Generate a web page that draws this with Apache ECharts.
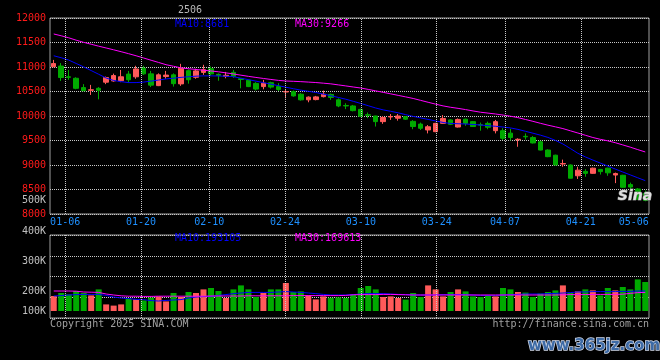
<!DOCTYPE html>
<html><head><meta charset="utf-8">
<script src="https://cdn.jsdelivr.net/npm/echarts@6/dist/echarts.min.js"></script>
<style>html,body{margin:0;padding:0;background:#000}#c{width:660px;height:360px}</style>
</head><body><div id="c"></div>
<script>
// ---------- data ----------
const dates = [
 '01-02','01-03','01-06','01-07','01-08','01-09','01-10','01-13','01-14','01-15','01-16','01-17','01-20','01-21','01-22','01-23','01-24','01-27',
 '02-05','02-06','02-07','02-10','02-11','02-12','02-13','02-14','02-17','02-18','02-19','02-20','02-21','02-24','02-25','02-26','02-27','02-28',
 '03-03','03-04','03-05','03-06','03-07','03-10','03-11','03-12','03-13','03-14','03-17','03-18','03-19','03-20','03-21','03-24','03-25','03-26','03-27','03-28','03-31',
 '04-01','04-02','04-03','04-07','04-08','04-09','04-10','04-11','04-14','04-15','04-16','04-17','04-18','04-21','04-22','04-23','04-24','04-25','04-28','04-29','04-30',
 '05-06','05-07'];
const opens = [11005,11020,10800,10770,10580,10525,10565,10690,10715,10720,
 10855,10800,10975,10860,10620,10805,10840,10655,10925,10790,
 10890,10965,10850,10810,10890,10760,10730,10665,10600,10680,
 10600,10490,10500,10445,10330,10335,10395,10440,10330,10215,
 10205,10135,10025,10000,9885,9980,9955,9985,9890,9835,
 9715,9680,9850,9920,9775,9935,9885,9820,9850,9700,
 9700,9650,9515,9585,9560,9475,9305,9200,9020,9000,
 8780,8870,8830,8910,8935,8795,8790,8600,8510,8420];
const closes = [11070,10785,10790,10565,10515,10535,10525,10785,10825,10800,
 10740,10960,10860,10630,10840,10835,10660,10975,10740,10920,
 10945,10860,10830,10830,10810,10745,10600,10550,10670,10590,
 10540,10500,10410,10330,10385,10390,10445,10380,10205,10205,
 10110,9995,10015,9885,9970,9990,10000,9935,9785,9750,
 9780,9850,9950,9830,9930,9850,9785,9815,9770,9885,
 9545,9560,9525,9575,9450,9305,9170,9000,9030,8730,
 8895,8830,8935,8865,8840,8825,8545,8550,8300,8275];
const lows = [11000,10716,10740,10545,10510,10430,10340,10650,10700,10690,
 10680,10760,10840,10590,10610,10760,10600,10615,10660,10760,
 10840,10820,10720,10770,10780,10565,10590,10520,10545,10560,
 10510,10360,10395,10315,10280,10320,10380,10330,10180,10140,
 10095,9985,9955,9785,9840,9920,9905,9920,9730,9715,
 9645,9670,9840,9815,9765,9800,9775,9700,9730,9645,
 9510,9500,9372,9520,9440,9300,9160,8995,8965,8725,
 8715,8760,8820,8805,8780,8630,8540,8480,8290,8260];
const highs = [11145,11080,10940,10790,10650,10635,10590,10805,10865,10940,
 10920,11025,11025,10920,10870,10920,10870,11065,10950,10965,
 11045,11010,10870,10900,10940,10765,10745,10690,10737,10700,
 10670,10530,10520,10465,10400,10410,10520,10460,10360,10260,
 10225,10150,10070,10005,10000,10040,10040,10000,9915,9865,
 9815,9860,10020,9935,9950,9945,9895,9865,9885,9920,
 9750,9740,9545,9645,9590,9495,9320,9210,9110,9010,
 8965,8915,8945,8920,8945,8845,8800,8640,8530,8480];
const ma10 = [11229,11189,11141,11072,11002,10927,10852,10775,10725,10700,
 10682,10682,10692,10712,10734,10756,10772,10788,10801,10813,
 10819,10819,10817,10811,10802,10772,10742,10712,10681,10650,
 10619,10588,10557,10528,10504,10480,10447,10414,10379,10343,
 10300,10256,10210,10163,10125,10096,10065,10028,9992,9961,
 9930,9899,9868,9848,9842,9837,9827,9816,9803,9790,
 9775,9757,9727,9688,9649,9609,9563,9502,9429,9336,
 9239,9165,9101,9039,8978,8917,8857,8798,8739,8681];
const ma30 = [11674,11637,11596,11547,11503,11464,11425,11388,11351,11312,
 11272,11229,11184,11138,11093,11047,11015,10983,10964,10950,
 10934,10919,10902,10880,10858,10833,10809,10787,10766,10746,
 10727,10714,10708,10701,10692,10683,10670,10656,10635,10614,
 10592,10571,10543,10513,10483,10452,10421,10390,10358,10319,
 10280,10242,10206,10178,10156,10131,10103,10077,10059,10041,
 10019,9996,9966,9929,9891,9851,9813,9779,9743,9698,
 9653,9607,9561,9524,9493,9455,9410,9364,9314,9266];
const volumes = [175000,190000,183000,200000,190000,178000,208000,133000,127000,133000,
 162000,158000,153000,167000,173000,148000,190000,170000,195000,190000,
 208000,215000,200000,165000,208000,228000,208000,170000,190000,208000,
 208000,240000,195000,198000,178000,158000,173000,166000,168000,165000,
 183000,215000,225000,208000,170000,173000,165000,157000,190000,170000,
 228000,208000,173000,195000,208000,198000,173000,170000,175000,173000,
 215000,208000,195000,192000,170000,187000,195000,203000,228000,190000,
 198000,208000,203000,178000,215000,203000,220000,208000,258000,245000];
const volMa10 = [175000,177000,180000,182000,183000,183000,183000,178000,170000,165000,
 162000,158000,157000,152000,150000,153000,155000,157000,165000,170000,
 172000,173000,178000,182000,187000,190000,193000,193000,193000,193000,
 195000,197000,195000,193000,190000,187000,183000,180000,180000,180000,
 182000,185000,187000,187000,187000,185000,183000,182000,180000,180000,
 180000,180000,182000,182000,182000,182000,180000,178000,178000,178000,
 180000,182000,183000,185000,185000,185000,187000,188000,190000,192000,
 195000,195000,197000,197000,197000,197000,198000,198000,200000,200000];
const volMa30 = [200000,200000,200000,199000,195000,194000,193000,185000,180000,176000,
 174000,174000,173000,173000,174000,174000,174000,174000,174000,174000,
 174000,175000,175000,175000,175000,175000,176000,176000,176000,176000,
 176000,176000,177000,177000,177000,177000,177000,177000,177000,178000,
 181000,182000,182000,182000,183000,183000,182000,181000,180000,180000,
 180000,180000,180000,180000,180000,180000,180000,180000,180000,180000,
 180000,180000,180000,180000,180000,180000,180000,180000,181000,182000,
 182000,182000,183000,183000,183000,183000,184000,188000,192000,193000];
// date ticks on the trading-day scale of the time axis
const dateTickLabels = ['01-06','01-20','02-10','02-24','03-10','03-24','04-07','04-21','05-06'];
const dateTickSlots  = [2,12,21,31,41,51,60,70,77];
const dateGridSlots  = [2,12,21,31,41,51,60,70];
const volGridSlots   = [2,12,31,41,51];
const volTickLabels  = ['500K','400K','300K','200K','100K'];
const titleText = '2506';
const priceLegend = ['MA10:8681','MA30:9266'];
const volLegend = ['MA10:193105','MA30:169613'];

// ---------- layout / styles ----------
const RED = '#ff5a5a', GREEN = '#00aa00', BLUE = '#0000ff', MAG = '#ff00ff';
const GRIDC = '#c8c8c8', FRAME = '#a0a0a0';
const FF = 'DejaVu Sans Mono';
const labelMap = {}; dateTickSlots.forEach((v, i) => labelMap[v] = dateTickLabels[i]);
const candleData = opens.map((o, i) => [o, closes[i], lows[i], highs[i]]);
const dots = {color: GRIDC, width: 1, type: [1, 1]};

const volLabelY = [200, 231, 261, 291, 311];
const txt = (x, y, text, fill, align, extra) => Object.assign({
  type: 'text', x: x, y: y, silent: true, z: 50,
  style: Object.assign({text: text, fill: fill, font: '10px "' + FF + '"', align: align || 'left', verticalAlign: 'middle'}, extra || {})
});

const chart = echarts.init(document.getElementById('c'), null, {renderer: 'canvas'});
chart.setOption({
  backgroundColor: '#000',
  animation: false,
  grid: [
    {left: 50, top: 18, width: 599, height: 196, show: true, borderColor: FRAME, borderWidth: 1, backgroundColor: 'transparent'},
    {left: 50, top: 235, width: 599, height: 76, show: false},
    {left: 50, top: 235, width: 599, height: 83, show: true, borderColor: FRAME, borderWidth: 1, backgroundColor: 'transparent'}
  ],
  xAxis: [
    {type: 'category', gridIndex: 0, data: dates, boundaryGap: true, axisLine: {show: false}, axisTick: {show: false}, axisLabel: {show: false}, splitLine: {show: false}},
    {type: 'value', gridIndex: 0, min: 0, max: 79, position: 'bottom', axisLine: {show: false}, axisTick: {show: false}, splitLine: {show: false},
     axisLabel: {customValues: dateTickSlots, formatter: v => labelMap[v] || '', color: '#1e90ff', fontFamily: FF, fontSize: 10, margin: 3, hideOverlap: false}},
    {type: 'category', gridIndex: 1, data: dates, boundaryGap: true, show: false},
    {type: 'value', gridIndex: 2, min: 0, max: 79, show: false}
  ],
  yAxis: [
    {type: 'value', gridIndex: 0, min: 8000, max: 12000, interval: 500, axisLine: {show: false}, axisTick: {show: false},
     axisLabel: {color: '#ff1a1a', fontFamily: FF, fontSize: 10, margin: 4, padding: [0, 0, 3, 0], formatter: v => String(v)},
     splitLine: {show: true, lineStyle: dots}},
    {type: 'value', gridIndex: 1, min: 100000, max: 480000, show: false},
    {type: 'value', gridIndex: 2, min: 0, max: 400000, interval: 100000, axisLine: {show: false}, axisTick: {show: false}, axisLabel: {show: false},
     splitLine: {show: true, lineStyle: dots}}
  ],
  series: [
    {type: 'line', xAxisIndex: 1, yAxisIndex: 0, data: [], z: 1, silent: true,
     markLine: {silent: true, symbol: 'none', label: {show: false}, lineStyle: dots, animation: false,
       data: dateGridSlots.map(v => ({xAxis: v}))}},
    {type: 'line', xAxisIndex: 3, yAxisIndex: 2, data: [], z: 1, silent: true,
     markLine: {silent: true, symbol: 'none', label: {show: false}, lineStyle: dots, animation: false,
       data: volGridSlots.map(v => ({xAxis: v}))}},
    {type: 'candlestick', xAxisIndex: 0, yAxisIndex: 0, data: candleData, barWidth: 5, z: 3,
     itemStyle: {color: RED, color0: GREEN, borderColor: RED, borderColor0: GREEN, borderWidth: 1}},
    {type: 'line', xAxisIndex: 0, yAxisIndex: 0, data: ma10, symbol: 'none', z: 4, lineStyle: {color: BLUE, width: 1}},
    {type: 'line', xAxisIndex: 0, yAxisIndex: 0, data: ma30, symbol: 'none', z: 4, lineStyle: {color: MAG, width: 1}},
    {type: 'bar', xAxisIndex: 2, yAxisIndex: 1, data: volumes, barWidth: 6, clip: true, z: 3,
     itemStyle: {color: p => closes[p.dataIndex] >= opens[p.dataIndex] ? RED : GREEN}},
    {type: 'line', xAxisIndex: 2, yAxisIndex: 1, data: volMa10, symbol: 'none', z: 4, lineStyle: {color: BLUE, width: 1}},
    {type: 'line', xAxisIndex: 2, yAxisIndex: 1, data: volMa30, symbol: 'none', z: 4, lineStyle: {color: MAG, width: 1}}
  ],
  graphic: [
    txt(190, 10, titleText, '#b8b8b8', 'center'),
    txt(175, 24, priceLegend[0], BLUE),
    txt(295, 24, priceLegend[1], MAG),
    txt(175, 238, volLegend[0], BLUE),
    txt(295, 238, volLegend[1], MAG),
    ...volTickLabels.map((t, i) => txt(46, volLabelY[i], t, '#c0c0c0', 'right')),
    txt(50, 324, 'Copyright 2025 SINA.COM', '#a0a0a0'),
    txt(649, 324, 'http://finance.sina.com.cn', '#a0a0a0', 'right'),
    txt(635, 196, 'Sina', '#e0e0e0', 'center', {font: 'italic bold 14px "DejaVu Sans"', stroke: '#808080', lineWidth: 1}),
    txt(594, 346, 'www.365jz.com', '#3d6aa5', 'center', {font: 'bold 15px "DejaVu Sans"', stroke: '#d0d8e8', lineWidth: 1.5})
  ]
});
</script></body></html>
